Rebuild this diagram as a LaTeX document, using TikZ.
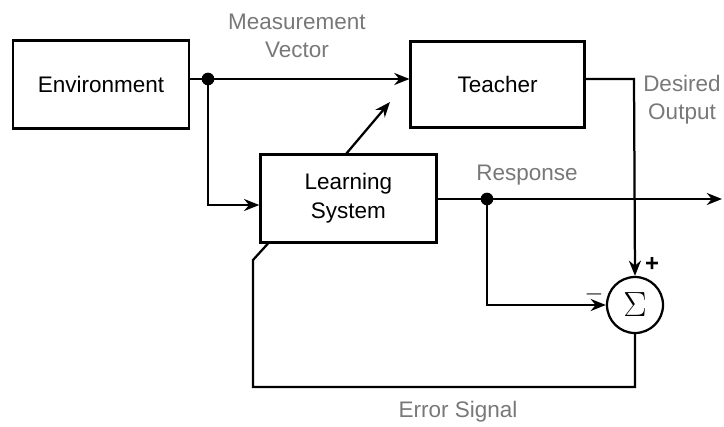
\documentclass[tikz,border=0pt]{standalone}
\usepackage{fontspec}
\setmainfont{Liberation Sans}
\usepackage{xcolor}
\usepackage{tikz}
\usetikzlibrary{arrows.meta,positioning,calc}
\definecolor{labelgray}{RGB}{120,120,120}

\begin{document}
\begin{tikzpicture}[>={Stealth[length=3.8mm,width=3mm]}, line width=1.6pt,
    block/.style={draw, rectangle, minimum width=4.4cm, minimum height=2.2cm,
        align=center, font=\fontsize{16}{21}\selectfont},
    sig/.style={font=\fontsize{16}{20}\selectfont, text=labelgray, align=center}]
\useasboundingbox (0,0) rectangle (18.1,-10.65);

% blocks
\node[block] (env) at (2.525,-2.11) {Environment};
\node[block, minimum width=4.35cm, minimum height=2.15cm] (teacher) at (12.44,-2.11) {Teacher};
\node[block] (learn) at (8.71,-4.96) {Learning\\System};
\node[draw, circle, minimum size=1.4cm, inner sep=0pt,
    font=\fontsize{29}{29}\selectfont] (sum) at (15.875,-7.625) {$\Sigma$};

% measurement vector and its branch
\coordinate (split) at (5.2,-1.975);
\draw[->] (env.east |- split) -- (teacher.west |- split);
\draw[->] (split) |- (learn.west |- 0,-5.125);
\fill (split) circle (4.5pt);
\node[sig] (meas) at (7.425,-0.9) {Measurement\\Vector};

% learning system output
\coordinate (tap) at (12.175,-4.975);
\coordinate (out) at (18.05,-4.975);
\draw[->] (learn.east |- tap) -- (out);
\fill (tap) circle (4.5pt);
\node[sig] (resp) at (13.175,-4.375) {Response};
\draw[->] (tap) |- (sum.west);

% teacher output into the sum
\coordinate (dturn) at (15.85,-1.975);
\draw[->] (teacher.east |- dturn) -- (dturn) -- (sum.north);
\node[sig] (desired) at (17.05,-2.5) {Desired\\Output};
\node[font=\fontsize{17}{17}\selectfont\bfseries] (plus) at (16.3,-6.6) {+};
\node[font=\fontsize{16}{16}\selectfont] (minus) at (14.85,-7.35) {$-$};

% error fed back into the learner
\coordinate (ea) at (15.875,-9.675);
\coordinate (eb) at (6.325,-9.675);
\coordinate (ec) at (6.325,-6.5);
\draw (sum.south) -- (ea) -- (eb) -- (ec) -- (learn.south -| 6.7,0);
\node[sig] (err) at (11.45,-10.3) {Error Signal};

% teacher adapts from the learner
\draw[->] (8.65,-3.85) -- (9.75,-2.55);
\end{tikzpicture}
\end{document}
